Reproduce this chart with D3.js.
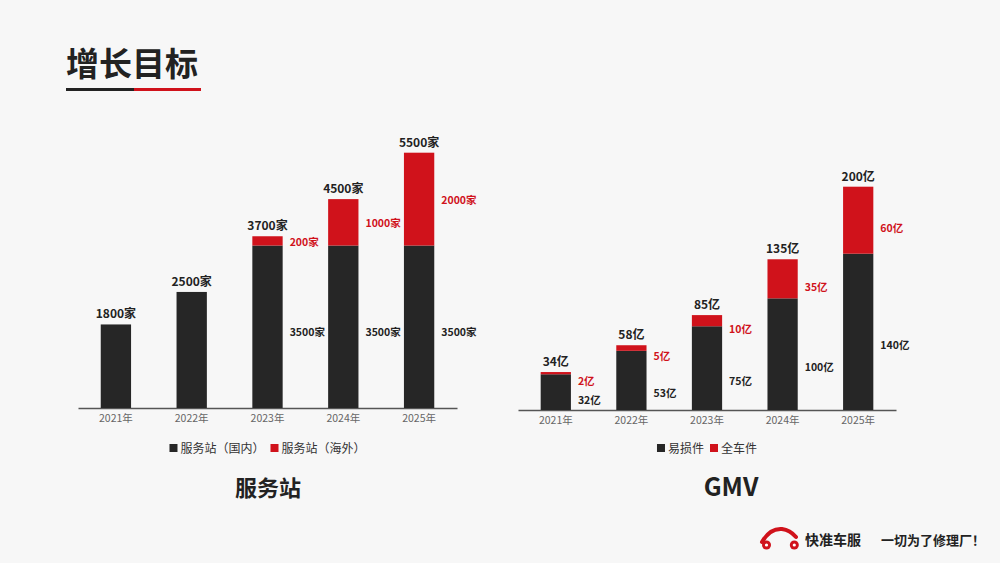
<!DOCTYPE html>
<html>
<head>
<meta charset="utf-8">
<script src="https://cdn.jsdelivr.net/npm/d3@7"></script>
<style>
  body { margin: 0; background: #f7f7f7; }
  svg { display: block; font-family: "Noto Sans CJK SC", "Noto Sans", sans-serif; }
</style>
</head>
<body>
<div id="chart"></div>
<script>
// data
var years = ["2021年", "2022年", "2023年", "2024年", "2025年"];

var stationDomestic = [1800, 2500, 3500, 3500, 3500];
var stationOverseas = [0, 0, 200, 1000, 2000];
var stationNames = ["服务站（国内）", "服务站（海外）"];

var gmvParts = [32, 53, 75, 100, 140];
var gmvWhole = [2, 5, 10, 35, 60];
var gmvNames = ["易损件", "全车件"];

var BLACK = "#262626", RED = "#d0121b";

var W = 1000, H = 563;
var svg = d3.select("#chart").append("svg")
  .attr("width", W).attr("height", H);

svg.append("rect").attr("width", W).attr("height", H).attr("fill", "#f7f7f7");

// title
svg.append("text")
  .attr("x", 66).attr("y", 76)
  .attr("font-size", 33).attr("font-weight", 700)
  .attr("fill", "#222")
  .text("增长目标");
svg.append("rect").attr("x", 66).attr("y", 88).attr("width", 68).attr("height", 3).attr("fill", "#222");
svg.append("rect").attr("x", 134).attr("y", 88).attr("width", 67).attr("height", 3).attr("fill", RED);

function drawChart(opt) {
  var data = years.map(function(y, i) {
    return { year: y, a: opt.a[i], b: opt.b[i] };
  });

  var x = d3.scaleBand().domain(years).range([opt.x0, opt.x1]).paddingInner(0.6).paddingOuter(0.3);
  var y = d3.scaleLinear().domain([0, opt.max]).range([opt.base, opt.top]);

  var g = svg.append("g");

  var xAxis = d3.axisBottom(x).tickSize(0).tickPadding(7);
  var ax = g.append("g").attr("transform", "translate(0," + opt.base + ")").call(xAxis);
  ax.select(".domain").attr("stroke", "#555").attr("stroke-width", 1.3);
  ax.selectAll("text")
    .attr("font-family", "'Noto Sans CJK SC', sans-serif")
    .attr("font-size", 10.5).attr("fill", "#666");

  var bw = x.bandwidth();

  g.selectAll(".ba").data(data).enter().append("rect")
    .attr("x", function(d) { return x(d.year); })
    .attr("width", bw)
    .attr("y", function(d) { return y(d.a); })
    .attr("height", function(d) { return opt.base - y(d.a); })
    .attr("fill", BLACK);

  g.selectAll(".bb").data(data.filter(function(d) { return d.b > 0; })).enter().append("rect")
    .attr("x", function(d) { return x(d.year); })
    .attr("width", bw)
    .attr("y", function(d) { return y(d.a + d.b); })
    .attr("height", function(d) { return y(d.a) - y(d.a + d.b); })
    .attr("fill", RED);

  // totals
  g.selectAll(".tot").data(data).enter().append("text")
    .attr("x", function(d) { return x(d.year) + bw / 2; })
    .attr("y", function(d) { return y(d.a + d.b) - 6; })
    .attr("text-anchor", "middle")
    .attr("font-size", 12).attr("font-weight", 700).attr("fill", "#222")
    .text(function(d) { return (d.a + d.b) + opt.unit; });

  // segment labels beside stacked bars
  var stacked = data.filter(function(d) { return d.b > 0; });
  stacked.forEach(function(d) {
    var lx = x(d.year) + bw + 7;
    var ry = (y(d.a) + y(d.a + d.b)) / 2 + opt.redShift;
    var by = (opt.base + y(d.a)) / 2 + opt.blackShift;
    by = Math.max(by, ry + 14);
    by = Math.min(by, opt.base - 10);
    g.append("text").attr("x", lx).attr("y", ry + 4)
      .attr("font-size", 10.5).attr("font-weight", 700).attr("fill", RED)
      .text(d.b + opt.unit);
    g.append("text").attr("x", lx).attr("y", by + 4)
      .attr("font-size", 10.5).attr("font-weight", 700).attr("fill", "#222")
      .text(d.a + opt.unit);
  });

  // legend
  var lg = g.append("g");
  var cx = 0;
  opt.names.forEach(function(n, i) {
    var item = lg.append("g").attr("transform", "translate(" + cx + ",0)");
    item.append("rect").attr("x", 0).attr("y", -4).attr("width", 8).attr("height", 8)
      .attr("fill", i === 0 ? BLACK : RED);
    var t = item.append("text").attr("x", 11).attr("y", 4.5)
      .attr("font-size", 12).attr("fill", "#333").text(n);
    cx += 11 + t.node().getComputedTextLength() + 6;
  });
  var lw = cx - 6;
  lg.attr("transform", "translate(" + ((opt.x0 + opt.x1) / 2 - lw / 2) + ",448)");

  g.append("text")
    .attr("x", opt.titleX).attr("y", 496)
    .attr("text-anchor", "middle")
    .attr("font-size", opt.titleSize).attr("font-weight", 700).attr("fill", "#222")
    .text(opt.title);
}

drawChart({
  a: stationDomestic, b: stationOverseas, names: stationNames, unit: "家",
  x0: 78, x1: 457, base: 408, top: 152.7, max: 5500,
  redShift: 1, blackShift: 5, title: "服务站", titleX: 268, titleSize: 22
});

drawChart({
  a: gmvParts, b: gmvWhole, names: gmvNames, unit: "亿",
  x0: 518, x1: 896, base: 410, top: 186.7, max: 200,
  redShift: 8, blackShift: 13, title: "GMV", titleX: 731, titleSize: 25
});

// footer logo
var logo = svg.append("g");
logo.append("path")
  .attr("d", "M762,542 Q770,528 782,529 Q790,530 796,537")
  .attr("fill", "none").attr("stroke", RED).attr("stroke-width", 4).attr("stroke-linecap", "round");
[766.5, 794.3].forEach(function(cxw) {
  logo.append("circle").attr("cx", cxw).attr("cy", 545).attr("r", 4.5).attr("fill", RED);
  logo.append("circle").attr("cx", cxw).attr("cy", 545).attr("r", 1.6).attr("fill", "#fff");
});
svg.append("text").attr("x", 805).attr("y", 545)
  .attr("font-size", 14).attr("font-weight", 700).attr("fill", "#222").text("快准车服");
svg.append("text").attr("x", 881).attr("y", 545)
  .attr("font-size", 13).attr("font-weight", 700).attr("fill", "#222").text("一切为了修理厂！");
</script>
</body>
</html>
